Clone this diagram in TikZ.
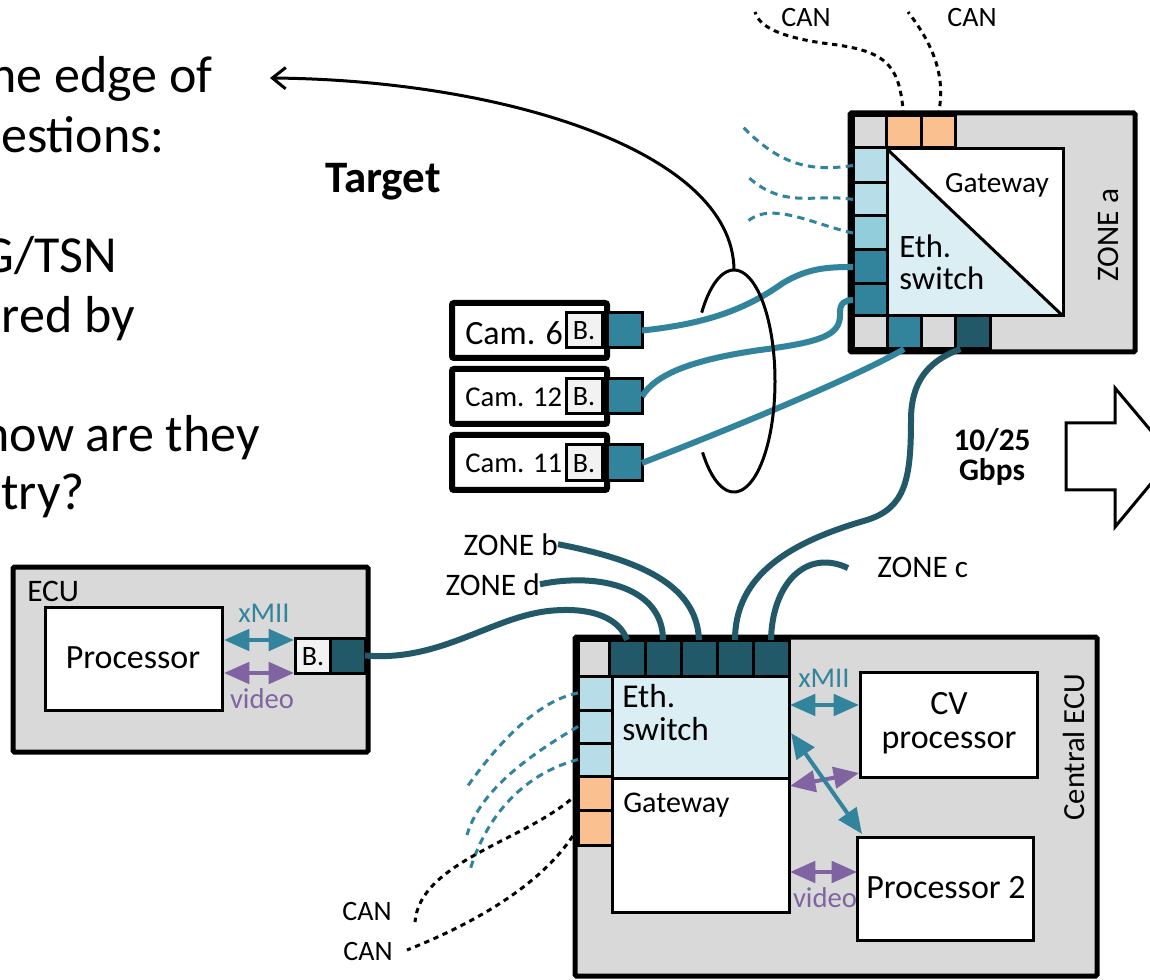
\documentclass[tikz,border=0pt]{standalone}
\usepackage{fontspec}
\setmainfont{Carlito}
\usetikzlibrary{arrows.meta}
\definecolor{zgray}{HTML}{D9D9D9}
\definecolor{pLight}{HTML}{B7DEE8}
\definecolor{pMid}{HTML}{92CDDC}
\definecolor{pTeal}{HTML}{31849B}
\definecolor{pDark}{HTML}{215968}
\definecolor{pOrange}{HTML}{FAC090}
\definecolor{swFill}{HTML}{DAEEF3}
\definecolor{bFill}{HTML}{F2F2F2}
\definecolor{vPurple}{HTML}{8064A2}
\newcommand{\pxbox}[6]{\node[#2,anchor=north west,inner sep=0pt,outer sep=0pt,minimum width={(#5-#3)*0.75pt},minimum height={(#6-#4)*0.75pt}] (#1) at (#3,#4) {};}
\begin{document}
\begin{tikzpicture}[x=0.75pt,y=-0.75pt,
  zonebox/.style={draw=black,line width=3.75pt,fill=zgray,rounded corners=1pt},
  cambox/.style={draw=black,line width=4.5pt,fill=white,rounded corners=1.5pt},
  inbox/.style={draw=black,line width=2.25pt,fill=white},
  port/.style={draw=black,line width=2.25pt},
  cable/.style={line width=4.5pt,pTeal},
  dcable/.style={line width=4.5pt,pDark},
  tdash/.style={pTeal,line width=2.25pt,dash pattern=on 5.5pt off 4pt},
  cdash/.style={black,line width=2.25pt,dash pattern=on 4pt off 3.5pt},
  dbl/.style={line width=3pt,{Triangle[length=19pt,width=16pt]}-{Triangle[length=19pt,width=16pt]}},
  big/.style={font=\fontsize{39}{45}\selectfont,inner sep=0pt},
  lab/.style={font=\fontsize{23.5}{28}\selectfont,inner sep=0pt},
  small/.style={font=\fontsize{21}{24}\selectfont,inner sep=0pt},
  bold/.style={font=\bfseries\fontsize{23.5}{21}\selectfont,inner sep=0pt},
  thin/.style={black,line width=2.25pt}
]
\fill[white] (0,0) rectangle (1150,980);
\path[use as bounding box] (0,0) rectangle (1150,980);
\clip (0,0) rectangle (1150,980);

% ---------- left text ----------
\node[big,anchor=base east] (q1) at (213,93) {he edge of};
\node[big,anchor=base east] (q2) at (165,153) {estions:};
\node[big,anchor=base east] (q3) at (117,273) {G/TSN};
\node[big,anchor=base east] (q4) at (135,333) {red by};
\node[big,anchor=base east] (q5) at (260,452) {how are they};
\node[big,anchor=base east] (q6) at (85,510) {try?};
\node[font=\bfseries\fontsize{33.75}{40}\selectfont,inner sep=0pt,anchor=base] (target) at (383,193) {Target};

% ---------- ZONE a ----------
\pxbox{za}{zonebox}{850}{113}{1135}{352}
\pxbox{zaT1}{port,fill=zgray}{853}{116}{886}{148}
\pxbox{zaT2}{port,fill=pOrange}{886}{116}{921}{148}
\pxbox{zaT3}{port,fill=pOrange}{921}{116}{955}{148}
\pxbox{zaL1}{port,fill=pLight}{853}{148}{887}{183}
\pxbox{zaL2}{port,fill=pLight}{853}{183}{887}{216}
\pxbox{zaL3}{port,fill=pMid}{853}{216}{887}{250}
\pxbox{zaL4}{port,fill=pTeal}{853}{250}{887}{284}
\pxbox{zaL5}{port,fill=pTeal}{853}{284}{887}{316}
\pxbox{zaB1}{port,fill=zgray}{853}{316}{887}{349}
\pxbox{zaB2}{port,fill=pTeal}{887}{316}{921}{349}
\pxbox{zaB3}{port,fill=zgray}{921}{316}{955}{349}
\pxbox{zaB4}{port,fill=pDark}{955}{316}{990}{349}
\pxbox{zaGw}{inbox}{887}{149}{1063}{316}
\fill[swFill] (zaGw.north west) -- (zaGw.south east) -- (zaGw.south west) -- cycle;
\draw[thin] (zaGw.north west) -- (zaGw.south east);
\draw[thin] (zaGw.north west) rectangle (zaGw.south east);
\node[font=\fontsize{22}{26}\selectfont,inner sep=0pt,anchor=base] (zaGwT) at (997,193) {Gateway};
\node[font=\fontsize{24.5}{25}\selectfont,inner sep=0pt,anchor=base west] (zaEth) at (899,258) {Eth.};
\node[font=\fontsize{24.5}{25}\selectfont,inner sep=0pt,anchor=base west] (zaSw) at (899,290) {switch};
\node[lab,rotate=90,anchor=base] (zaName) at (1118,235) {ZONE a};

% CAN lines on top of zone a
\coordinate (zaC1) at (755,12);
\coordinate (zaC2) at (908,12);
\draw[cdash] (zaT2.north) .. controls (900,62) and (885,50) .. (822,43) .. controls (790,38) and (760,30) .. (zaC1);
\draw[cdash] (zaT3.north) .. controls (946,80) and (936,48) .. (zaC2);
\node[small,anchor=base] (can1) at (806,27) {CAN};
\node[small,anchor=base] (can2) at (972,27) {CAN};

% teal dashed lines on zone a
\coordinate (zaD1) at (743,127);
\coordinate (zaD2) at (748,177);
\coordinate (zaD3) at (747,222);
\draw[tdash] (zaL1.west) .. controls (810,172) and (780,165) .. (zaD1);
\draw[tdash] (zaL2.west) .. controls (815,193) and (785,210) .. (zaD2);
\draw[tdash] (zaL3.west) .. controls (815,225) and (770,200) .. (zaD3);

% ---------- cameras ----------
\pxbox{cam6}{cambox}{452}{303}{607}{358}
\pxbox{cam6b}{port,fill=bFill}{566}{313}{602}{348}
\pxbox{cam6p}{port,fill=pTeal}{607}{313}{642}{348}
\pxbox{cam12}{cambox}{452}{369}{607}{424}
\pxbox{cam12b}{port,fill=bFill}{566}{379}{602}{414}
\pxbox{cam12p}{port,fill=pTeal}{607}{379}{642}{414}
\pxbox{cam11}{cambox}{452}{435}{607}{490}
\pxbox{cam11b}{port,fill=bFill}{566}{445}{602}{481}
\pxbox{cam11p}{port,fill=pTeal}{607}{445}{642}{481}
\node[font=\fontsize{25.5}{28}\selectfont,inner sep=0pt,anchor=base west] (cam6t) at (465,345) {Cam. 6};
\node[font=\fontsize{21.5}{24}\selectfont,inner sep=0pt,anchor=base west] (cam12t) at (465,407) {Cam. 12};
\node[font=\fontsize{21.5}{24}\selectfont,inner sep=0pt,anchor=base west] (cam11t) at (465,473) {Cam. 11};
\node[small,anchor=base] (cam6bt) at (cam6b.center |- 0,340) {B.};
\node[small,anchor=base] (cam12bt) at (cam12b.center |- 0,406) {B.};
\node[small,anchor=base] (cam11bt) at (cam11b.center |- 0,473) {B.};

% cables camera -> zone a
\draw[cable] (cam6p.east) .. controls (705,324) and (745,310) .. (783,283) .. controls (808,268) and (828,267) .. (zaL4.west);
\draw[cable] (cam12p.east) .. controls (655,375) and (690,360) .. (760,350) .. controls (822,342) and (840,335) .. (840,315) .. controls (839,302) and (846,300) .. (zaL5.west);
\draw[cable] (cam11p.east) .. controls (740,425) and (860,375) .. (zaB2.south);

% lasso ellipse and Target arrow
\draw[thin] plot[domain=-140:142,samples=90,smooth] ({734+41*cos(\x)},{381-111*sin(\x)});
\coordinate (ellTop) at (734,270);
\coordinate (tgtEnd) at (270,78);
\draw[thin,-{Straight Barb[length=10pt,width=16pt]}] (ellTop) .. controls (733,150) and (500,80) .. (tgtEnd);

% ---------- Central ECU ----------
\pxbox{ce}{zonebox}{575}{637}{1097}{976}
\pxbox{ceTg}{port,fill=zgray}{578}{640}{609}{676}
\pxbox{ceT1}{port,fill=pDark}{609}{640}{645}{676}
\pxbox{ceT2}{port,fill=pDark}{645}{640}{681}{676}
\pxbox{ceT3}{port,fill=pDark}{681}{640}{717}{676}
\pxbox{ceT4}{port,fill=pDark}{717}{640}{753}{676}
\pxbox{ceT5}{port,fill=pDark}{753}{640}{789}{676}
\pxbox{ceL1}{port,fill=pLight}{578}{676}{612}{710}
\pxbox{ceL2}{port,fill=pLight}{578}{710}{612}{743}
\pxbox{ceL3}{port,fill=pLight}{578}{743}{612}{776}
\pxbox{ceL4}{port,fill=pOrange}{578}{776}{612}{810}
\pxbox{ceL5}{port,fill=pOrange}{578}{810}{612}{845}
\pxbox{ceSw}{inbox,fill=swFill}{612}{676}{789}{778}
\pxbox{ceGw}{inbox}{612}{778}{789}{912}
\pxbox{ceCV}{inbox}{860}{672}{1037}{777}
\pxbox{ceP2}{inbox}{857}{837}{1033}{940}
\node[font=\fontsize{25}{25}\selectfont,inner sep=0pt,anchor=base west] (ceEth) at (622,707) {Eth.};
\node[font=\fontsize{25}{25}\selectfont,inner sep=0pt,anchor=base west] (ceSwT) at (622,740) {switch};
\node[font=\fontsize{22.5}{25}\selectfont,inner sep=0pt,anchor=base west] (ceGwT) at (623,812) {Gateway};
\node[font=\fontsize{25.5}{25}\selectfont,inner sep=0pt,anchor=base] (ceCVt1) at (949,714) {CV};
\node[font=\fontsize{25.5}{25}\selectfont,inner sep=0pt,anchor=base] (ceCVt2) at (949,748) {processor};
\node[font=\fontsize{25.5}{25}\selectfont,inner sep=0pt,anchor=base] (ceP2t) at (946,898) {Processor 2};
\node[font=\fontsize{23}{25}\selectfont,inner sep=0pt,rotate=90,anchor=base] (ceName) at (1084,747) {Central ECU};

\coordinate (xa1) at (790,705);
\coordinate (xa2) at (859,705);
\coordinate (xd1) at (791,733);
\coordinate (xd2) at (862,834);
\coordinate (pv1) at (790,786);
\coordinate (pv2) at (859,773);
\coordinate (vd1) at (790,872);
\coordinate (vd2) at (857,872);
\draw[dbl,pTeal] (xa1) -- (xa2);
\draw[dbl,vPurple] (pv1) -- (pv2);
\draw[dbl,pTeal] (xd1) -- (xd2);
\draw[dbl,vPurple] (vd1) -- (vd2);
\node[font=\fontsize{21.5}{24}\selectfont,inner sep=0pt,anchor=base,text=pTeal] (ceX) at (824,687) {xMII};
\node[font=\fontsize{21.5}{24}\selectfont,inner sep=0pt,anchor=base,text=vPurple] (ceV) at (825,907) {video};

% left dashed lines of central ECU
\coordinate (ceD1) at (467,787);
\coordinate (ceD2) at (467,835);
\coordinate (ceD3) at (470,870);
\coordinate (ceC1) at (415,922);
\coordinate (ceC2) at (407,950);
\draw[tdash] (ceL1.west) .. controls (540,700) and (500,740) .. (ceD1);
\draw[tdash] (ceL2.west) .. controls (530,755) and (480,790) .. (ceD2);
\draw[tdash] (ceL3.west) .. controls (520,775) and (485,820) .. (ceD3);
\draw[cdash] (ceL4.west) .. controls (530,840) and (420,860) .. (ceC1);
\draw[cdash] (ceL5.west) .. controls (545,885) and (470,925) .. (ceC2);
\node[small,anchor=base] (can3) at (367,920) {CAN};
\node[small,anchor=base] (can4) at (368,960) {CAN};

% ---------- ECU ----------
\pxbox{ecu}{zonebox}{13}{567}{368}{752}
\pxbox{ecuProc}{inbox}{45}{607}{222}{710}
\pxbox{ecuB}{port,fill=bFill}{295}{638}{330}{673}
\pxbox{ecuP}{port,fill=pDark}{330}{638}{365}{673}
\node[font=\fontsize{23.5}{25}\selectfont,inner sep=0pt,anchor=base west] (ecuT) at (27,601) {ECU};
\node[font=\fontsize{25.5}{25}\selectfont,inner sep=0pt,anchor=base] (ecuProcT) at (133,668) {Processor};
\node[small,anchor=base] (ecuBT) at (313,665) {B.};
\coordinate (ea1) at (224,640);
\coordinate (ea2) at (294,640);
\coordinate (ev1) at (224,673);
\coordinate (ev2) at (294,673);
\draw[dbl,pTeal] (ea1) -- (ea2);
\draw[dbl,vPurple] (ev1) -- (ev2);
\node[font=\fontsize{21.5}{24}\selectfont,inner sep=0pt,anchor=base,text=pTeal] (ecuX) at (264,622) {xMII};
\node[font=\fontsize{21.5}{24}\selectfont,inner sep=0pt,anchor=base,text=vPurple] (ecuV) at (262,708) {video};

% ---------- zone cables to central ECU ----------
\node[lab,anchor=base east] (zbLbl) at (558,555) {ZONE b};
\node[lab,anchor=base east] (zdLbl) at (540,595) {ZONE d};
\node[lab,anchor=base west] (zcLbl) at (877,577) {ZONE c};
\coordinate (zcEnd) at (848,568);
\draw[dcable] (ecuP.east) .. controls (440,662) and (490,618) .. (548,611) .. controls (595,606) and (620,620) .. (ceT1.north);
\draw[dcable] (zdLbl.east) .. controls (600,572) and (663,588) .. (ceT2.north);
\draw[dcable] (zbLbl.east) .. controls (640,560) and (697,585) .. (ceT3.north);
\draw[dcable] ([xshift=-9pt]zaB4.south) .. controls (925,362) and (911,385) .. (911,420) .. controls (911,480) and (905,508) .. (867,520) .. controls (790,542) and (735,575) .. (ceT4.north);
\draw[dcable] (ceT5.north) .. controls (772,585) and (805,548) .. (zcEnd);

% ---------- bandwidth and big arrow ----------
\node[bold,anchor=base] (bw1) at (992,451) {10/25};
\node[bold,anchor=base] (bw2) at (992,481) {Gbps};
\draw[thin,fill=white] (1066,423) -- (1115,423) -- (1115,388) -- (1173,457) -- (1115,527) -- (1115,490) -- (1066,490) -- cycle;
\end{tikzpicture}
\end{document}
